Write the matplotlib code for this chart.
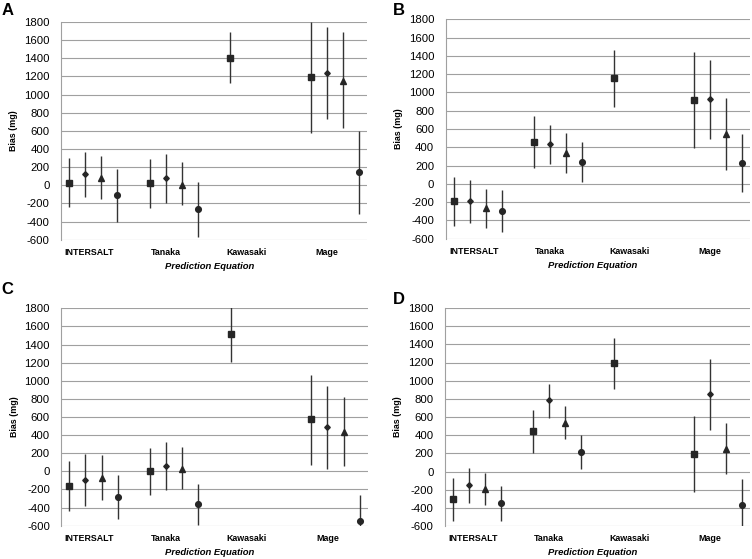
import numpy as np
import matplotlib
matplotlib.use("Agg")
import matplotlib.pyplot as plt

plt.rcParams['font.family'] = ['Liberation Sans', 'DejaVu Sans']

nan = np.nan
categories = ['INTERSALT', 'Tanaka', 'Kawasaki', 'Mage']
series_markers = ['s', 'D', '^', 'o']  # four estimate series per equation
yticks = list(range(-600, 1801, 200))

# Panel A  (rows = series: square, diamond, triangle, circle; cols = categories)
A_mean = [[30, 20, 1400, 1190], [120, 80, nan, 1240], [80, 5, nan, 1150], [-110, -265, nan, 145]]
A_low = [[-235, -246, 1125, 580], [-125, -190, nan, 730], [-150, -220, nan, 630], [-400, -570, nan, -315]]
A_high = [[298, 287, 1690, 1800], [370, 342, nan, 1746], [327, 254, nan, 1687], [176, 37, nan, 600]]

# Panel B
B_mean = [[-190, 457, 1155, 918], [-188, 435, nan, 925], [-265, 333, nan, 540], [-296, 238, nan, 227]]
B_low = [[-464, 175, 841, 388], [-428, 219, nan, 486], [-483, 121, nan, 150], [-526, 22, nan, -91]]
B_high = [[80, 742, 1466, 1444], [40, 643, nan, 1356], [-51, 552, nan, 940], [-69, 453, nan, 541]]

# Panel C
C_mean = [[-162, 0, 1515, 573], [-92, 63, nan, 489], [-72, 30, nan, 433], [-283, -364, nan, -548]]
C_low = [[-442, -258, 1202, 73], [-379, -206, nan, 29], [-317, -195, nan, 62], [-523, -592, nan, -830]]
C_high = [[110, 261, 1830, 1066], [188, 324, nan, 941], [184, 269, nan, 823], [-44, -136, nan, -265]]

# Panel D
D_mean = [[-305, 444, 1189, 191], [-150, 782, nan, 851], [-196, 539, nan, 248], [-345, 217, nan, -371]]
D_low = [[-540, 202, 903, -231], [-349, 587, nan, 455], [-374, 363, nan, -29], [-540, 29, nan, -660]]
D_high = [[-73, 679, 1468, 613], [37, 965, nan, 1244], [-15, 723, nan, 539], [-158, 404, nan, -81]]

panels = [
    ('A', A_mean, A_low, A_high, (61.0, 367.0, 22.0, 239.7), (1.7, 3.3)),
    ('B', B_mean, B_low, B_high, (445.7, 749.5, 19.3, 238.7), (393.0, 3.3)),
    ('C', C_mean, C_low, C_high, (61.3, 367.7, 308.3, 525.7), (1.7, 282.0)),
    ('D', D_mean, D_low, D_high, (445.0, 750.0, 308.0, 526.0), (393.0, 292.0)),
]

W, H = 752, 559
fig = plt.figure(figsize=(W / 100, H / 100), dpi=100)

grid_col = '#a0a0a0'
dark = '#262626'
msizes = {'s': 3.7, 'D': 2.8, '^': 4.2, 'o': 4.1}
group_width = 5
label_pos = [1.25, 6, 11, 16]

for letter, mean, low, high, (l, r, t, b), (lx, ly) in panels:
    ax = fig.add_axes([l / W, 1 - b / H, (r - l) / W, (b - t) / H])
    axh = b - t
    mean = np.array(mean, dtype=float)
    low = np.array(low, dtype=float)
    high = np.array(high, dtype=float)
    for si in range(len(series_markers)):
        for ci in range(len(categories)):
            m = mean[si, ci]
            if np.isnan(m):
                continue
            x = ci * group_width + si
            ax.errorbar([x], [m], yerr=[[m - low[si, ci]], [high[si, ci] - m]],
                        fmt=series_markers[si], color=dark, ecolor='#333333',
                        elinewidth=1.0, capsize=0, ms=msizes[series_markers[si]],
                        mec=dark, mfc=dark, zorder=3)
    ax.set_xlim(-0.5, 18.5)
    ax.set_ylim(-600, 1800)
    ax.set_yticks(yticks)
    ax.set_yticklabels([str(v) for v in yticks], fontsize=8.2)
    ax.set_xticks([])
    ax.tick_params(axis='y', length=0, pad=8.2)
    ax.grid(axis='y', color=grid_col, linewidth=0.8)
    ax.set_axisbelow(True)
    for s in ['top', 'right', 'bottom']:
        ax.spines[s].set_visible(False)
    ax.spines['left'].set_color(grid_col)
    ax.spines['left'].set_linewidth(0.8)
    ax.set_ylabel('Bias (mg)', fontsize=6.4, fontweight='bold')
    ax.yaxis.set_label_coords(-42.5 / (r - l), 0.5)
    for ci, cat in enumerate(categories):
        ax.text(label_pos[ci], -12.5 / axh, cat, transform=ax.get_xaxis_transform(),
                ha='center', va='center', fontsize=6.4, fontweight='bold')
    ax.text(0.485, -26.5 / axh, 'Prediction Equation', transform=ax.transAxes,
            ha='center', va='center', fontsize=6.8, fontweight='bold', fontstyle='italic')
    fig.text(lx / W, 1 - ly / H, letter, ha='left', va='top', fontsize=12, fontweight='bold')

fig.savefig('out.png', dpi=100)
